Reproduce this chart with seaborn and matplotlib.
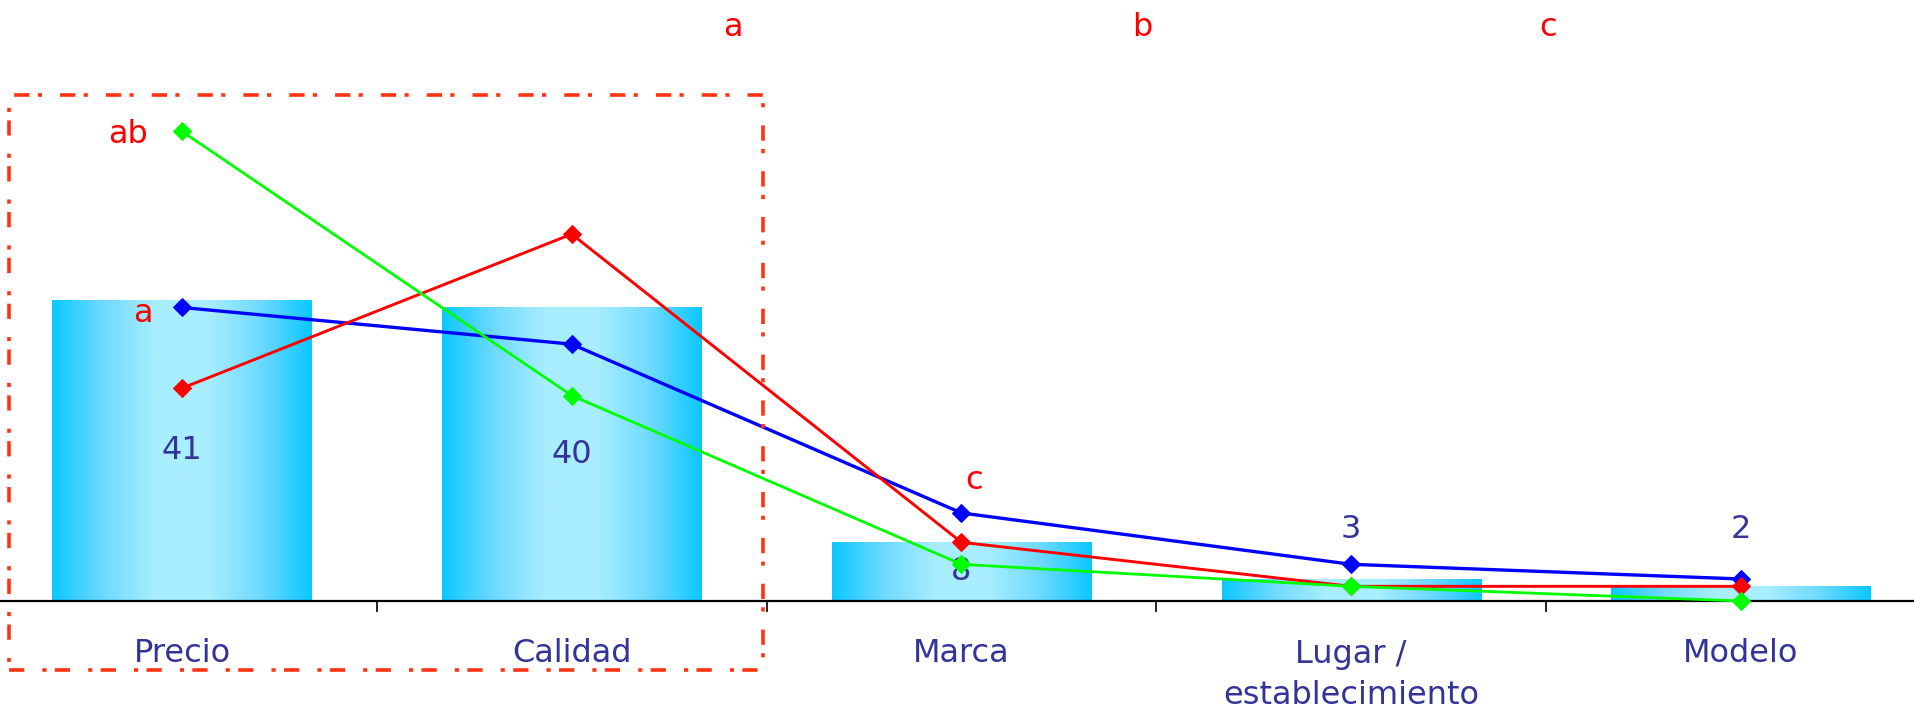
import numpy as np
import pandas as pd
import matplotlib
matplotlib.use("Agg")
import matplotlib.pyplot as plt
from matplotlib.colors import LinearSegmentedColormap
from matplotlib.patches import Rectangle
import seaborn as sns

# ---- data -------------------------------------------------------------
categories = ["Precio", "Calidad", "Marca", "Lugar /\nestablecimiento", "Modelo"]
total = [41, 40, 8, 3, 2]
serie_azul = [40, 35, 12, 5, 3]
serie_roja = [29, 50, 8, 2, 2]
serie_verde = [64, 28, 5, 2, 0]
top_letters = ["a", "b", "c"]

# ---- style ------------------------------------------------------------
sns.set_theme(style="white")
plt.rcParams["font.family"] = ["DejaVu Sans"]
plt.rcParams["lines.scale_dashes"] = False

TXT = "#333399"
FS = 23

fig = plt.figure(figsize=(19.15, 7.11), dpi=100)
ax = fig.add_axes([0.0, 110 / 711, 1.0, 601 / 711])

df = pd.DataFrame({"pos": np.arange(len(categories)), "valor": total})
sns.barplot(data=df, x="pos", y="valor", native_scale=True, width=0.665,
            color="#1ECBFF", edgecolor="none", ax=ax, zorder=1)

# horizontal cyan gradient inside each bar
grad = LinearSegmentedColormap.from_list(
    "barra", ["#0AC8FF", "#6FDAFF", "#A8EEFF", "#A8EEFF", "#6FDAFF", "#0AC8FF"])
ramp = np.linspace(0, 1, 256).reshape(1, -1)
for bar in list(ax.patches):
    x0, y0 = bar.get_x(), bar.get_y()
    w, h = bar.get_width(), bar.get_height()
    im = ax.imshow(ramp, cmap=grad, aspect="auto",
                   extent=(x0, x0 + w, y0, y0 + h), zorder=1.5,
                   interpolation="bicubic")
    im.set_clip_path(bar)

# value labels
for i, v in enumerate(total):
    y = v / 2 if v > 5 else 9.8
    ax.text(i, y, str(v), ha="center", va="center", color=TXT,
            fontsize=FS, zorder=2)

# three series with diamond markers
pos = np.arange(len(categories))
for vals, col, lw in [(serie_azul, "#0000FF", 2.4),
                      (serie_roja, "#FF0000", 2.1),
                      (serie_verde, "#00FF00", 2.0)]:
    sns.lineplot(x=pos, y=vals, color=col, linewidth=lw, marker="D",
                 markersize=9.5, markeredgecolor=col, ax=ax, zorder=3,
                 clip_on=False)

# significance letters
RED = "#FF0000"
ax.annotate("ab", (0, serie_verde[0]), xytext=(-39, 0),
            textcoords="offset points", ha="center", va="center_baseline",
            color=RED, fontsize=FS)
ax.annotate("a", (0, serie_azul[0]), xytext=(-28, -2),
            textcoords="offset points", ha="center", va="center_baseline",
            color=RED, fontsize=FS)
ax.annotate("c", (2, serie_roja[2]), xytext=(9, 47),
            textcoords="offset points", ha="center", va="center_baseline",
            color=RED, fontsize=FS)
for xl, letter in zip([1.414, 2.464, 3.506], top_letters):
    ax.text(xl, 78.6, letter, ha="center", va="center_baseline",
            color=RED, fontsize=FS)

# dash-dot frame around the first two categories
frame = Rectangle((-0.445, -9.4), 1.936, 78.3, fill=False,
                  edgecolor="#FF3311", linewidth=2.6,
                  linestyle=(0, (11, 13, 3, 6)), clip_on=False, zorder=4)
ax.add_patch(frame)

# axes
ax.set_xlim(-0.467, 4.447)
ax.set_ylim(0, 81.9)
ax.set_xlabel("")
ax.set_ylabel("")
ax.set_yticks([])
ax.set_xticks(pos)
ax.set_xticklabels(categories, color=TXT, fontsize=FS, linespacing=1.45)
ax.set_xticks(np.arange(0.5, len(categories) - 1, 1.0), minor=True)
ax.tick_params(axis="x", which="major", length=0, pad=27)
ax.tick_params(axis="x", which="minor", length=8, width=1.2,
               color="black", direction="out", bottom=True)
for side in ["left", "right", "top"]:
    ax.spines[side].set_visible(False)
ax.spines["bottom"].set_color("black")
ax.spines["bottom"].set_linewidth(1.6)
ax.spines["bottom"].set_zorder(2.5)
ax.patch.set_alpha(0)

fig.savefig("out.png", dpi=100)
